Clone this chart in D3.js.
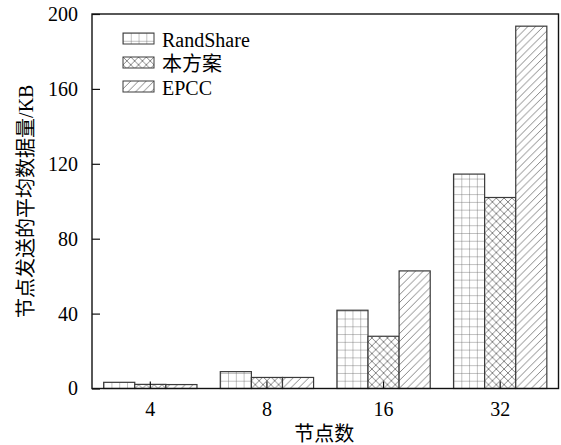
<!DOCTYPE html>
<html><head><meta charset="utf-8">
<script src="https://cdn.jsdelivr.net/npm/d3@7"></script>
<style>body{margin:0;background:#fff}svg{display:block}</style>
</head><body>
<svg id="c" width="561" height="445"></svg>
<script>
const categories = ["4", "8", "16", "32"];
const seriesNames = ["RandShare", "本方案", "EPCC"];
const randShare = [3.3, 9.0, 41.8, 114.5];
const benFangAn = [2.2, 5.9, 27.9, 102.0];
const epcc = [2.1, 5.9, 62.8, 193.5];
const yTicks = [0, 40, 80, 120, 160, 200];
const xTitle = "节点数";
const yTitle = "节点发送的平均数据量/KB";

const seriesValues = [randShare, benFangAn, epcc];
const kinds = ["grid", "cross", "diag"];

const svg = d3.select("#c");
const L = 92, R = 558.5, T = 14, B = 388.5;
const x = d3.scaleBand().domain(categories).range([L, R]).paddingInner(0.2).paddingOuter(0.1);
const xs = d3.scaleBand().domain(seriesNames).range([0, x.bandwidth()]);
const y = d3.scaleLinear().domain([0, 200]).range([B, T]);
const defs = svg.append("defs");
const tile = xs.bandwidth() / 4;
const serif = "'Liberation Serif', 'Times New Roman', serif";
const cjk = "'Liberation Serif', 'Noto Sans CJK SC', serif";

function makePattern(id, kind, ox, oy) {
  const p = defs.append("pattern").attr("id", id).attr("patternUnits", "userSpaceOnUse")
    .attr("x", ox).attr("y", oy).attr("width", tile).attr("height", tile);
  p.append("rect").attr("width", tile).attr("height", tile).attr("fill", "#fff");
  const g = p.append("g").attr("stroke", "#666").attr("stroke-width", 0.8).attr("fill", "none");
  if (kind === "grid") {
    g.append("line").attr("x1", 0).attr("y1", 0).attr("x2", 0).attr("y2", tile);
    g.append("line").attr("x1", 0).attr("y1", 0).attr("x2", tile).attr("y2", 0);
  } else if (kind === "cross") {
    g.append("line").attr("x1", 0).attr("y1", 0).attr("x2", tile).attr("y2", tile);
    g.append("line").attr("x1", tile).attr("y1", 0).attr("x2", 0).attr("y2", tile);
  } else {
    g.append("line").attr("x1", 0).attr("y1", tile).attr("x2", tile).attr("y2", 0);
    g.append("line").attr("x1", -tile/2).attr("y1", tile/2).attr("x2", tile/2).attr("y2", -tile/2);
    g.append("line").attr("x1", tile/2).attr("y1", tile*1.5).attr("x2", tile*1.5).attr("y2", tile/2);
  }
}

// bars
const bars = [];
categories.forEach((c, ci) => {
  seriesNames.forEach((s, si) => {
    bars.push({c, s, si, v: seriesValues[si][ci], id: "p" + ci + "_" + si});
  });
});
bars.forEach(d => makePattern(d.id, kinds[d.si], x(d.c) + xs(d.s), B));
svg.append("g").selectAll("rect").data(bars).join("rect")
  .attr("x", d => x(d.c) + xs(d.s))
  .attr("y", d => y(d.v))
  .attr("width", xs.bandwidth())
  .attr("height", d => B - y(d.v))
  .attr("fill", d => `url(#${d.id})`)
  .attr("stroke", "#3a3a3a").attr("stroke-width", 1.2);

// frame
svg.append("rect").attr("x", L).attr("y", T).attr("width", R - L).attr("height", B - T)
  .attr("fill", "none").attr("stroke", "#111").attr("stroke-width", 1.4);

// y axis
const yAxis = d3.axisLeft(y).tickValues(yTicks).tickSize(-8).tickPadding(14);
const ya = svg.append("g").attr("transform", `translate(${L},0)`).call(yAxis);
ya.select(".domain").remove();
ya.selectAll("line").attr("stroke", "#111").attr("stroke-width", 1.2);
ya.selectAll("text").attr("font-family", serif).attr("font-size", 20).attr("fill", "#000");

// x axis
const xAxis = d3.axisBottom(x).tickSize(-7).tickPadding(13);
const xa = svg.append("g").attr("transform", `translate(0,${B})`).call(xAxis);
xa.select(".domain").remove();
xa.selectAll("line").attr("stroke", "#111").attr("stroke-width", 1.2);
xa.selectAll("text").attr("font-family", serif).attr("font-size", 20).attr("fill", "#000");

// titles
svg.append("text").attr("x", (L + R) / 2 - 1).attr("y", 441).attr("text-anchor", "middle")
  .attr("font-family", cjk).attr("font-size", 20).attr("fill", "#000").text(xTitle);
svg.append("text").attr("transform", `translate(33,${(T + B) / 2}) rotate(-90)`)
  .attr("text-anchor", "middle")
  .attr("font-family", cjk).attr("font-size", 20).attr("fill", "#000").text(yTitle);

// legend
const lx = 123, ly = 33, lstep = 24, bw = 31, bh = 11;
const leg = svg.append("g");
seriesNames.forEach((s, i) => {
  makePattern("lg" + i, kinds[i], lx, ly + i * lstep);
  leg.append("rect").attr("x", lx).attr("y", ly + i * lstep).attr("width", bw).attr("height", bh)
    .attr("fill", `url(#lg${i})`).attr("stroke", "#3a3a3a").attr("stroke-width", 1);
  leg.append("text").attr("x", lx + 39).attr("y", ly + i * lstep + bh + 2.5)
    .attr("font-family", cjk).attr("font-size", 20).attr("fill", "#000").text(s);
});
</script>
</body></html>
